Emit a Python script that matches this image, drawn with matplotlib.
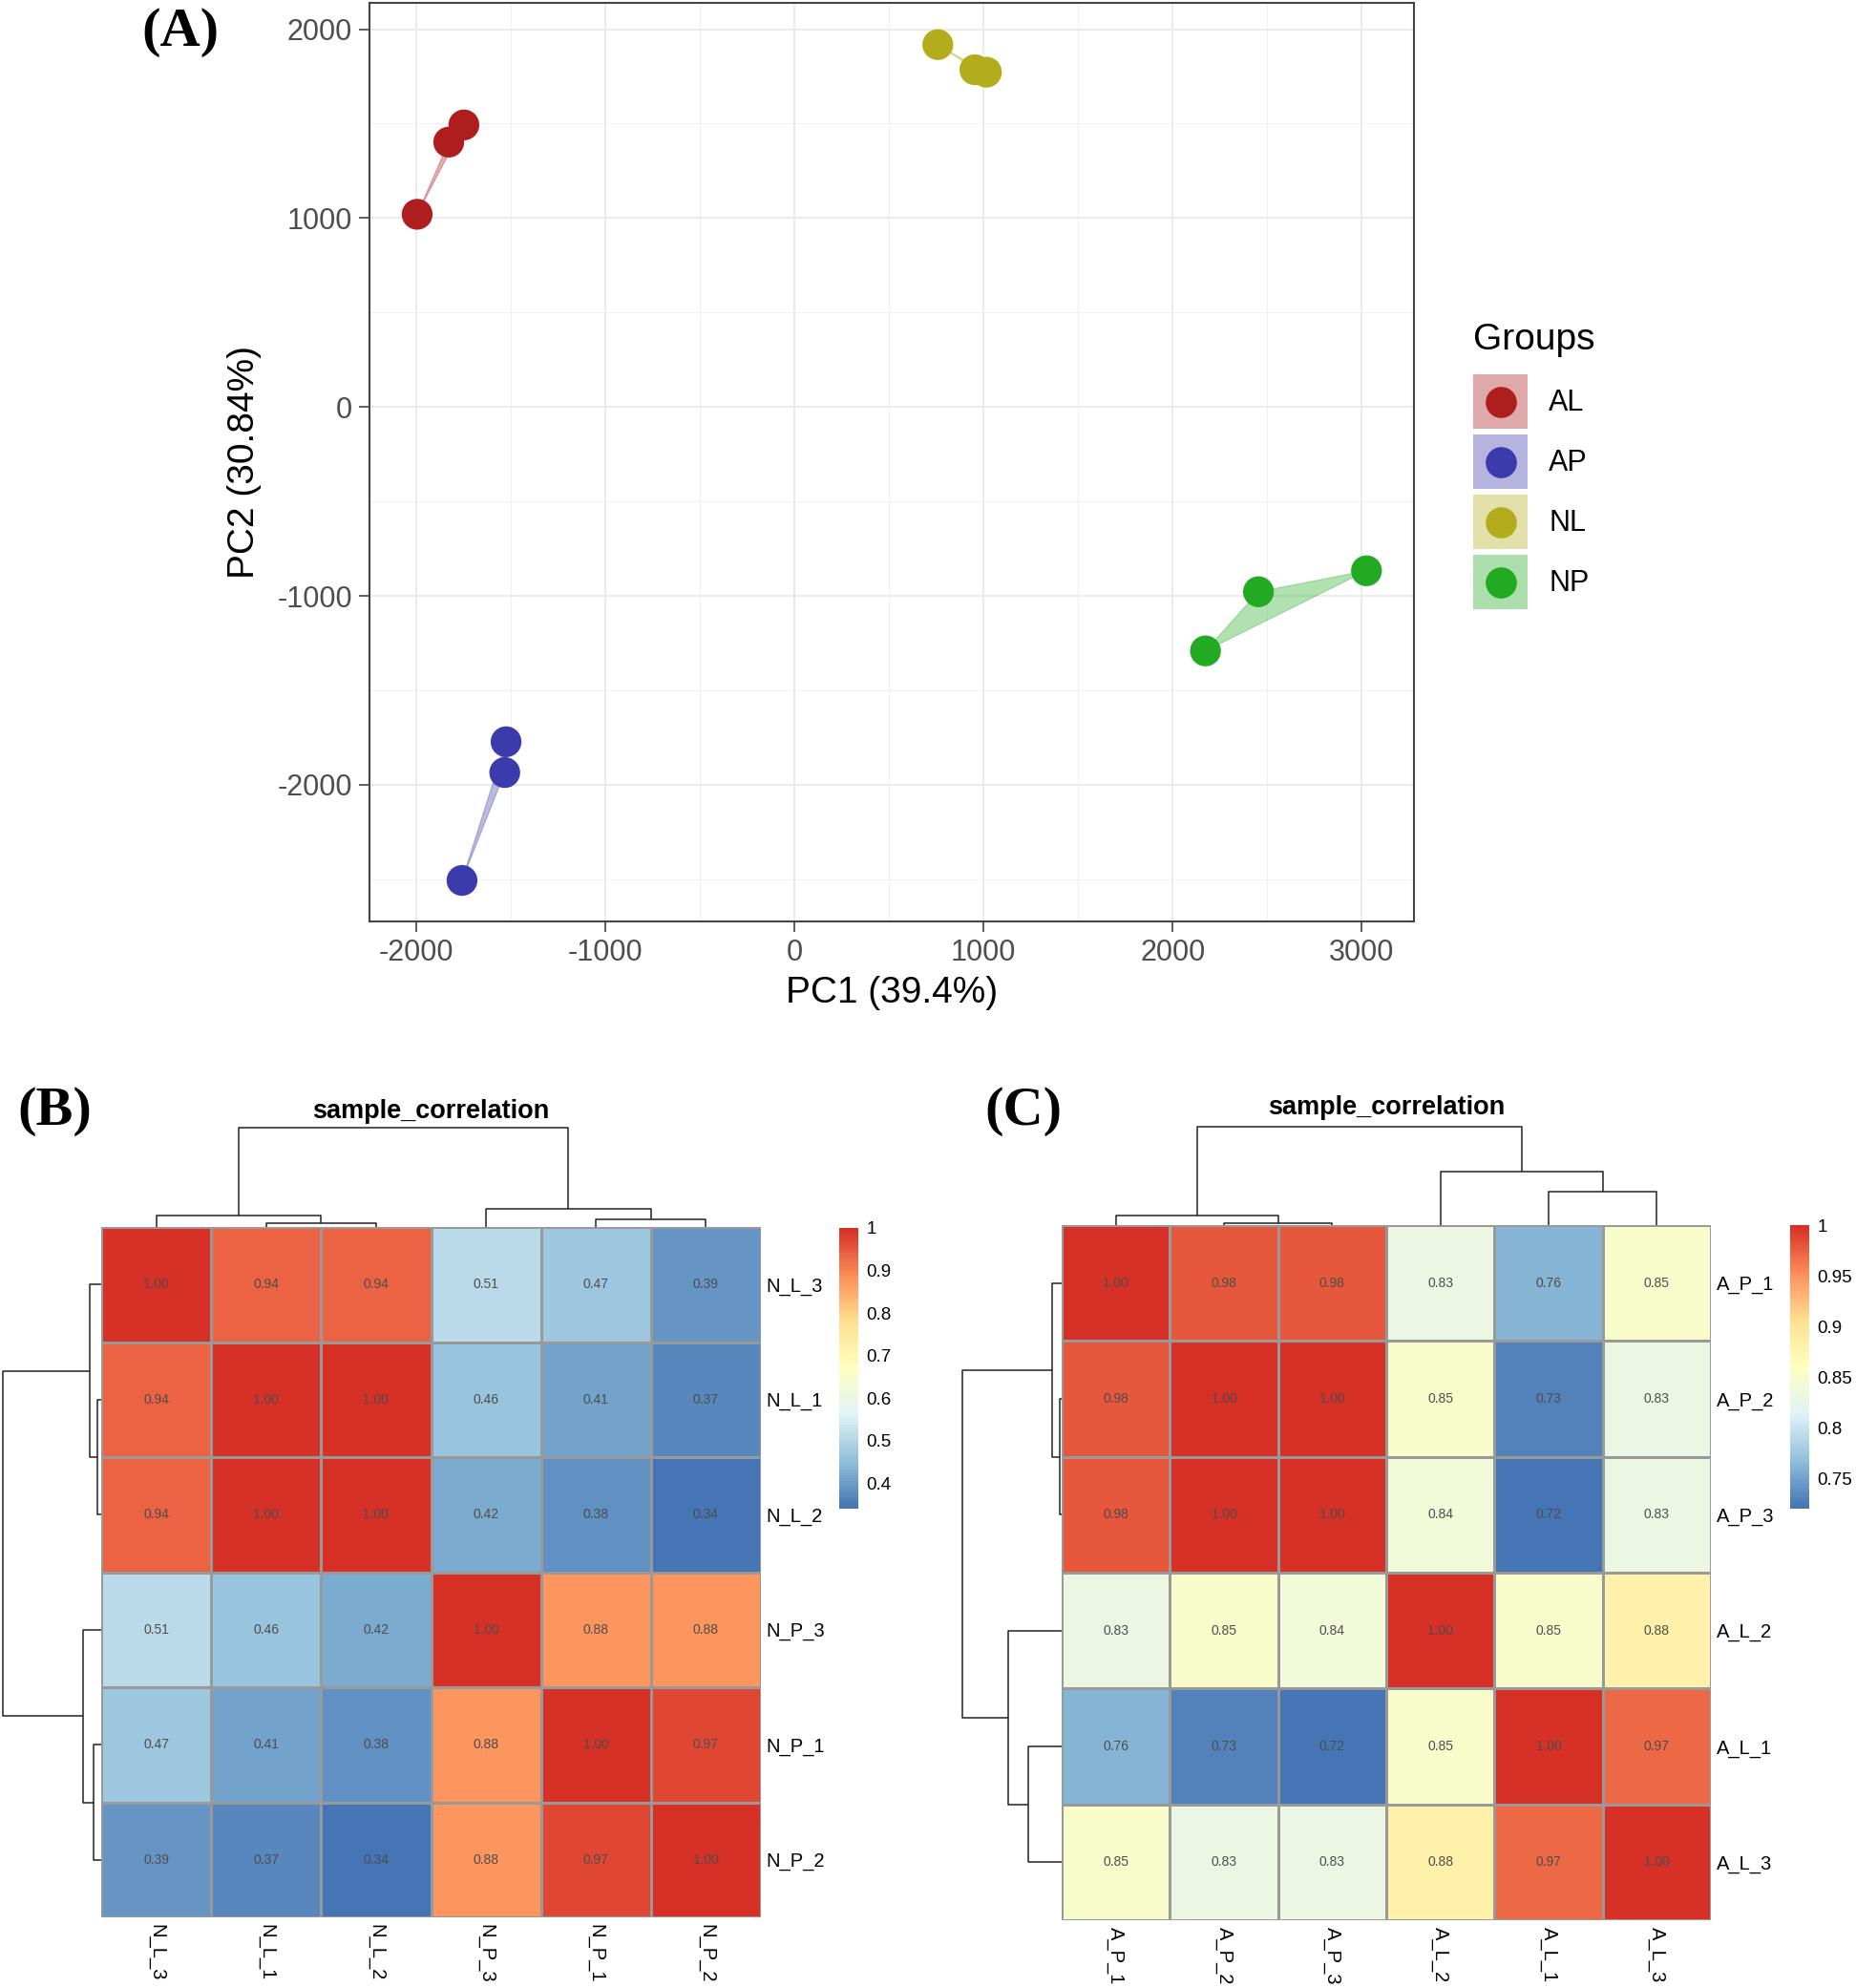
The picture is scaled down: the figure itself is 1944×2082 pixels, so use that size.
import numpy as np
import matplotlib
matplotlib.use("Agg")
import matplotlib.pyplot as plt
from matplotlib.colors import LinearSegmentedColormap, Normalize
from matplotlib.patches import Patch, Rectangle
from matplotlib.lines import Line2D
from matplotlib.legend_handler import HandlerBase
import matplotlib.colorbar as mcolorbar

plt.rcParams['font.family'] = ['Liberation Sans', 'DejaVu Sans']
plt.rcParams['axes.unicode_minus'] = False

# ---------------- data: panel A (PCA) ----------------
groups = ["AL", "AP", "NL", "NP"]
group_colors = ["#AF1E1E", "#3B3BAB", "#B3AD1E", "#22AA22"]
pc1 = {
    "AL": [-1993, -1826, -1746],
    "AP": [-1523, -1530, -1756],
    "NL": [759, 955, 1016],
    "NP": [2174, 2454, 3025],
}
pc2 = {
    "AL": [1020, 1402, 1493],
    "AP": [-1772, -1935, -2506],
    "NL": [1918, 1785, 1772],
    "NP": [-1291, -978, -867],
}
x_ticks = [-2000, -1000, 0, 1000, 2000, 3000]
x_ticklabels = ["-2000", "-1000", "0", "1000", "2000", "3000"]
x_minor = [-1500, -500, 500, 1500, 2500]
y_ticks = [-2000, -1000, 0, 1000, 2000]
y_ticklabels = ["-2000", "-1000", "0", "1000", "2000"]
y_minor = [-2500, -1500, -500, 500, 1500]
x_title = "PC1 (39.4%)"
y_title = "PC2 (30.84%)"

# ---------------- data: panel B ----------------
b_labels = ["N_L_3", "N_L_1", "N_L_2", "N_P_3", "N_P_1", "N_P_2"]
b_values = [
    [1.00, 0.94, 0.94, 0.51, 0.47, 0.39],
    [0.94, 1.00, 1.00, 0.46, 0.41, 0.37],
    [0.94, 1.00, 1.00, 0.42, 0.38, 0.34],
    [0.51, 0.46, 0.42, 1.00, 0.88, 0.88],
    [0.47, 0.41, 0.38, 0.88, 1.00, 0.97],
    [0.39, 0.37, 0.34, 0.88, 0.97, 1.00],
]
# linkage: (child a, child b, merge height) ; ids >= 6 are earlier merges
b_links = [(1, 2, 0.04), (0, 6, 0.12), (4, 5, 0.075), (3, 8, 0.18), (7, 9, 1.0)]
b_cbar_ticks = [0.4, 0.5, 0.6, 0.7, 0.8, 0.9, 1.0]
b_cbar_labels = ["0.4", "0.5", "0.6", "0.7", "0.8", "0.9", "1"]

# ---------------- data: panel C ----------------
c_labels = ["A_P_1", "A_P_2", "A_P_3", "A_L_2", "A_L_1", "A_L_3"]
c_values = [
    [1.00, 0.98, 0.98, 0.83, 0.76, 0.85],
    [0.98, 1.00, 1.00, 0.85, 0.73, 0.83],
    [0.98, 1.00, 1.00, 0.84, 0.72, 0.83],
    [0.83, 0.85, 0.84, 1.00, 0.85, 0.88],
    [0.76, 0.73, 0.72, 0.85, 1.00, 0.97],
    [0.85, 0.83, 0.83, 0.88, 0.97, 1.00],
]
c_links = [(1, 2, 0.02), (0, 6, 0.10), (4, 5, 0.34), (3, 8, 0.54), (7, 9, 1.0)]
c_cbar_ticks = [0.75, 0.8, 0.85, 0.9, 0.95, 1.0]
c_cbar_labels = ["0.75", "0.8", "0.85", "0.9", "0.95", "1"]

heat_title = "sample_correlation"
rdylbu7 = ["#4575B4", "#91BFDB", "#E0F3F8", "#FFFFBF", "#FEE090", "#FC8D59", "#D73027"]

# ---------------- figure ----------------
W, H = 1944, 2082
DPI = 100
fig = plt.figure(figsize=(W / DPI, H / DPI), dpi=DPI)


def px_axes(x0, y0, x1, y1):
    return fig.add_axes([x0 / W, 1 - y1 / H, (x1 - x0) / W, (y1 - y0) / H])


class GroupKeyHandler(HandlerBase):
    """Legend key: translucent square with a solid dot centred in it."""

    def create_artists(self, legend, orig_handle, xdescent, ydescent, width, height,
                       fontsize, trans):
        col = orig_handle.get_facecolor()
        rect = Rectangle((-xdescent, -ydescent), width, height, facecolor=col[:3],
                         alpha=0.38, edgecolor='none', transform=trans)
        cx = -xdescent + width / 2
        cy = -ydescent + height / 2
        dot = Line2D([cx], [cy], ls='none', marker='o', markersize=23.5,
                     markerfacecolor=col[:3], markeredgecolor='none', transform=trans)
        return [rect, dot]


# ---------------- panel A ----------------
ax = px_axes(387, 3, 1481, 965)
ax.set_xlim(-2245, 3276)
ax.set_ylim(-2723, 2139)
ax.set_xticks(x_ticks)
ax.set_xticklabels(x_ticklabels)
ax.set_xticks(x_minor, minor=True)
ax.set_yticks(y_ticks)
ax.set_yticklabels(y_ticklabels)
ax.set_yticks(y_minor, minor=True)
ax.grid(True, which='major', color='#EBEBEB', lw=1.4, zorder=0)
ax.grid(True, which='minor', color='#F0F0F0', lw=0.8, zorder=0)
ax.set_axisbelow(True)
ax.tick_params(which='major', direction='out', length=8, width=1.1, color='#333333',
               labelsize=22, labelcolor='#4D4D4D', pad=5)
ax.tick_params(which='minor', length=0)
for sp in ax.spines.values():
    sp.set_color('#444444')
    sp.set_linewidth(1.5)

handles = []
for g, col in zip(groups, group_colors):
    xs, ys = pc1[g], pc2[g]
    ax.fill(xs, ys, facecolor=col, alpha=0.35, edgecolor=col, lw=0.8, zorder=2)
    ax.scatter(xs, ys, s=540, color=col, edgecolors='none', zorder=3)
    handles.append(Patch(facecolor=col))

ax.set_xlabel(x_title, fontsize=28)
ax.xaxis.set_label_coords(0.5, -0.078)
ax.xaxis.label.set_va('center')
ax.set_ylabel(y_title, fontsize=28)
ax.yaxis.set_label_coords(-0.1197, 0.5)
ax.yaxis.label.set_va('center')

leg = fig.legend(handles, groups, title="Groups", loc='upper left',
                 bbox_to_anchor=(1543 / W, 1 - 338 / H), bbox_transform=fig.transFigure,
                 frameon=False, fontsize=22, title_fontsize=28,
                 handlelength=1.87, handleheight=2.49, labelspacing=0.2,
                 handletextpad=0.72, borderpad=0, borderaxespad=0,
                 handler_map={Patch: GroupKeyHandler()},
                 alignment='left')
leg._legend_box.sep = 13

# ---------------- heatmaps ----------------

def draw_dendro(ax, links, n, orientation):
    pos = {i: i + 0.5 for i in range(n)}
    hgt = {i: 0.0 for i in range(n)}
    for k, (a, b, h) in enumerate(links):
        xa, xb = pos[a], pos[b]
        ha, hb = hgt[a], hgt[b]
        xs = [xa, xa, xb, xb]
        ys = [ha, h, h, hb]
        if orientation == 'top':
            ax.plot(xs, ys, color='#222222', lw=1.1, clip_on=False, solid_capstyle='butt')
        else:
            ax.plot(ys, xs, color='#222222', lw=1.1, clip_on=False, solid_capstyle='butt')
        pos[n + k] = (xa + xb) / 2
        hgt[n + k] = h
    ax.set_axis_off()


def draw_heatmap(values, labels, links, cells, coltree, rowtree, cbar, ticks, ticklabels,
                 row_pad, col_pad):
    data = np.array(values)
    n = len(labels)
    cmap = LinearSegmentedColormap.from_list("pheat", rdylbu7, N=100)
    norm = Normalize(vmin=data.min(), vmax=data.max())
    axh = px_axes(*cells)
    axh.pcolormesh(np.arange(n + 1), np.arange(n + 1), data, cmap=cmap, norm=norm,
                   edgecolors='#999999', linewidth=1.0)
    axh.set_xlim(0, n)
    axh.set_ylim(n, 0)
    for i in range(n):
        for j in range(n):
            axh.text(j + 0.5, i + 0.5, f"{data[i, j]:.2f}", ha='center', va='center',
                     fontsize=10, color='#4D4D4D')
    axh.set_xticks(np.arange(n) + 0.5)
    axh.set_xticklabels(labels, rotation=-90, fontsize=14.5)
    axh.set_yticks(np.arange(n) + 0.5)
    axh.set_yticklabels(labels, fontsize=14.5)
    axh.yaxis.tick_right()
    axh.tick_params(axis='y', length=0, pad=row_pad)
    axh.tick_params(axis='x', length=0, pad=col_pad)
    for lab in axh.get_xticklabels():
        lab.set_va('top')
        lab.set_ha('center')
    for sp in axh.spines.values():
        sp.set_visible(False)

    axc = px_axes(*coltree)
    draw_dendro(axc, links, n, 'top')
    axc.set_xlim(0, n)
    axc.set_ylim(0, 1)

    axr = px_axes(*rowtree)
    draw_dendro(axr, links, n, 'left')
    axr.set_xlim(1, 0)
    axr.set_ylim(n, 0)

    axb = px_axes(*cbar)
    cb = mcolorbar.ColorbarBase(axb, cmap=cmap, norm=norm, orientation='vertical')
    cb.outline.set_visible(False)
    cb.set_ticks(ticks)
    cb.set_ticklabels(ticklabels)
    axb.tick_params(length=0, labelsize=13.5, pad=6)
    return axh


draw_heatmap(b_values, b_labels, b_links,
             cells=(106, 1285, 797, 2008), coltree=(106, 1181, 797, 1285),
             rowtree=(2.5, 1285, 106, 2008), cbar=(879, 1286, 899, 1580),
             ticks=b_cbar_ticks, ticklabels=b_cbar_labels, row_pad=3.6, col_pad=5)
draw_heatmap(c_values, c_labels, c_links,
             cells=(1112, 1283, 1792, 2011), coltree=(1112, 1179.5, 1792, 1283),
             rowtree=(1008, 1283, 1112, 2011), cbar=(1875, 1283, 1895, 1580),
             ticks=c_cbar_ticks, ticklabels=c_cbar_labels, row_pad=4, col_pad=5)

fig.text((106 + 797) / 2 / W, 1 - 1164 / H, heat_title, ha='center', va='center',
         fontsize=19.5, fontweight='bold')
fig.text((1112 + 1792) / 2 / W, 1 - 1160 / H, heat_title, ha='center', va='center',
         fontsize=19.5, fontweight='bold')

# panel labels
for lab, (x, y) in zip(["(A)", "(B)", "(C)"], [(189, 34), (57.5, 1164), (1072, 1164)]):
    fig.text(x / W, 1 - y / H, lab, ha='center', va='center', fontsize=42,
             fontweight='bold', family=['Liberation Serif', 'DejaVu Serif'])

fig.savefig("out.png", dpi=DPI)
